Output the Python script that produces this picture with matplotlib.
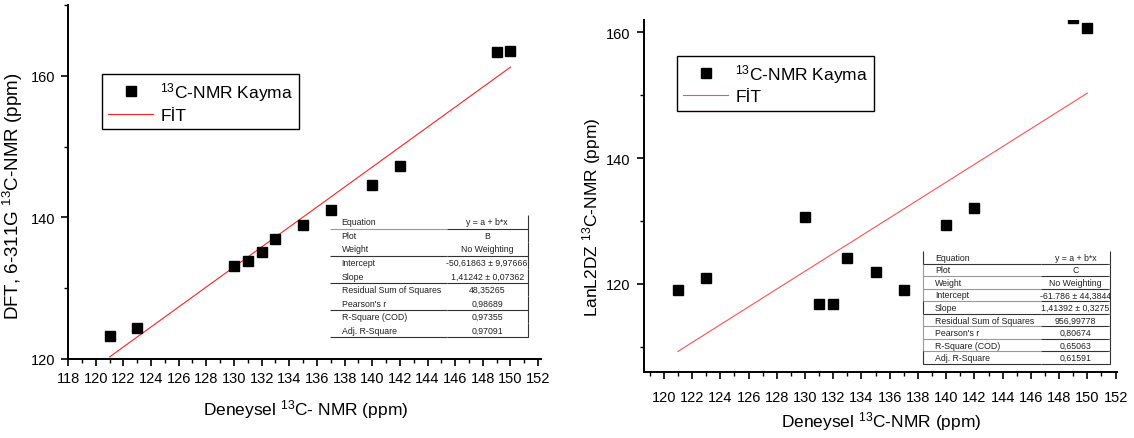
import matplotlib
matplotlib.use("Agg")
import matplotlib.pyplot as plt
from matplotlib.ticker import MultipleLocator
from matplotlib.table import Table

plt.rcParams['font.family'] = ['Liberation Sans', 'DejaVu Sans']
plt.rcParams['mathtext.fontset'] = 'custom'
plt.rcParams['mathtext.rm'] = 'Liberation Sans'
plt.rcParams['mathtext.default'] = 'regular'

# deneysel kaymalar (ortak x)
deneysel = [121, 123, 130, 131, 132, 133, 135, 137, 140, 142, 149, 150]
# DFT 6-311G hesaplanan kaymalar
dft = [123.3, 124.4, 133.1, 133.8, 135.1, 136.9, 138.9, 141.1, 144.6, 147.3, 163.4, 163.5]
# LanL2DZ hesaplanan kaymalar
lanl = [119.1, 120.9, 130.6, 116.8, 116.8, 124.2, 121.9, 119.0, 129.3, 132.1, 162.2, 160.6]

# fit parametreleri (tablolardan)
fit_b = (-50.61863, 1.41242)
fit_c = (-61.786, 1.41392)

tablo_b = [("Equation", "y = a + b*x"), ("Plot", "B"), ("Weight", "No Weighting"),
           ("Intercept", "-50,61863 \u00b1 9,97666"), ("Slope", "1,41242 \u00b1 0,07362"),
           ("Residual Sum of Squares", "48,35265"), ("Pearson's r", "0,98689"),
           ("R-Square (COD)", "0,97355"), ("Adj. R-Square", "0,97091")]
tablo_c = [("Equation", "y = a + b*x"), ("Plot", "C"), ("Weight", "No Weighting"),
           ("Intercept", "-61.786 \u00b1 44,3844"), ("Slope", "1,41392 \u00b1 0,3275"),
           ("Residual Sum of Squares", "956,99778"), ("Pearson's r", "0,80674"),
           ("R-Square (COD)", "0,65063"), ("Adj. R-Square", "0,61591")]


def fit_tablosu(ax, rows, bbox, w0, dark_rows, gray_rows, left_border):
    tbl = Table(ax, bbox=bbox)
    for r, (k, v) in enumerate(rows):
        c0 = tbl.add_cell(r, 0, w0, 1, text=k, loc='left', facecolor='white')
        c1 = tbl.add_cell(r, 1, 1 - w0, 1, text=v, loc='center', facecolor='white')
        e0 = 'B' if (r in dark_rows or r in gray_rows) else ''
        e1 = e0 + 'R'
        if left_border:
            e0 = e0 + 'L'
        c0.visible_edges = e0 if e0 else 'open'
        c1.visible_edges = e1
        for c in (c0, c1):
            c.set_linewidth(0.8)
            c.set_edgecolor('#999999' if r in gray_rows else '#333333')
            c.get_text().set_color('#222222')
        c1.set_edgecolor('#333333')
    tbl.auto_set_font_size(False)
    tbl.set_fontsize(6.3)
    tbl.set_zorder(5)
    ax.add_table(tbl)


def grafik(ax, y, fit, ylim, xlim, ylabel, xlabel, line_color):
    ax.plot(deneysel, y, 's', color='black', ms=7, zorder=3,
            label=r'$^{13}$C-NMR Kayma')
    xs = [deneysel[0], deneysel[-1]]
    ax.plot(xs, [fit[0] + fit[1] * x for x in xs], '-', color=line_color, lw=0.8,
            label='F\u0130T', zorder=2)
    ax.set_xlim(*xlim)
    ax.set_ylim(*ylim)
    ax.xaxis.set_major_locator(MultipleLocator(2))
    ax.xaxis.set_minor_locator(MultipleLocator(1))
    ax.yaxis.set_major_locator(MultipleLocator(20))
    ax.yaxis.set_minor_locator(MultipleLocator(10))
    ax.spines['top'].set_visible(False)
    ax.spines['right'].set_visible(False)
    for s in ('left', 'bottom'):
        ax.spines[s].set_linewidth(1.4)
    ax.tick_params(which='major', direction='out', length=5, width=1.2, labelsize=10.5)
    ax.tick_params(which='minor', direction='out', length=3, width=1.0)
    ax.set_ylabel(ylabel)
    ax.set_xlabel(xlabel)


fig = plt.figure(figsize=(11.34, 4.39), dpi=100)
ax1 = fig.add_axes([0.060, 0.180, 0.417, 0.806])
ax2 = fig.add_axes([0.568, 0.150, 0.417, 0.802])

grafik(ax1, dft, fit_b, (120, 170), (118, 152.2),
       r'DFT, 6-311G $^{13}$C-NMR (ppm)', r'Deneysel $^{13}$C- NMR (ppm)', '#ff2020')
grafik(ax2, lanl, fit_c, (106.0, 161.9), (118.6, 152.1),
       r'LanL2DZ $^{13}$C-NMR (ppm)', r'Deneysel $^{13}$C-NMR (ppm)', '#ff5050')

ax1.tick_params(axis='x', which='major', pad=4)
ax2.tick_params(axis='x', which='major', pad=8)
ax1.tick_params(axis='y', which='major', pad=4)
ax2.tick_params(axis='y', which='major', pad=5)

ax1.xaxis.label.set_size(12.5)
ax2.xaxis.label.set_size(12.5)
ax1.yaxis.label.set_size(13.5)
ax2.yaxis.label.set_size(12.5)
ax1.xaxis.set_label_coords(0.503, -0.107)
ax2.xaxis.set_label_coords(0.501, -0.105)
ax1.yaxis.set_label_coords(-0.090, 0.463)
ax2.yaxis.set_label_coords(-0.086, 0.443)

for ax, anchor in ((ax1, (0.072, 0.805)), (ax2, (0.070, 0.898))):
    leg = ax.legend(loc='upper left', bbox_to_anchor=anchor, borderaxespad=0,
                    fontsize=12.5, fancybox=False, edgecolor='black', framealpha=1,
                    handlelength=2.6, handletextpad=0.4, borderpad=0.35,
                    labelspacing=0.25)
    leg.get_frame().set_linewidth(1.0)

fit_tablosu(ax1, tablo_b, [0.554, 0.062, 0.418, 0.345], 0.59,
            dark_rows={2, 4, 6, 8}, gray_rows={0}, left_border=False)
fit_tablosu(ax2, tablo_c, [0.590, 0.023, 0.395, 0.321], 0.63,
            dark_rows={0, 4, 8}, gray_rows={1, 2, 3, 5, 6, 7}, left_border=True)

fig.savefig('out.png', dpi=100)
